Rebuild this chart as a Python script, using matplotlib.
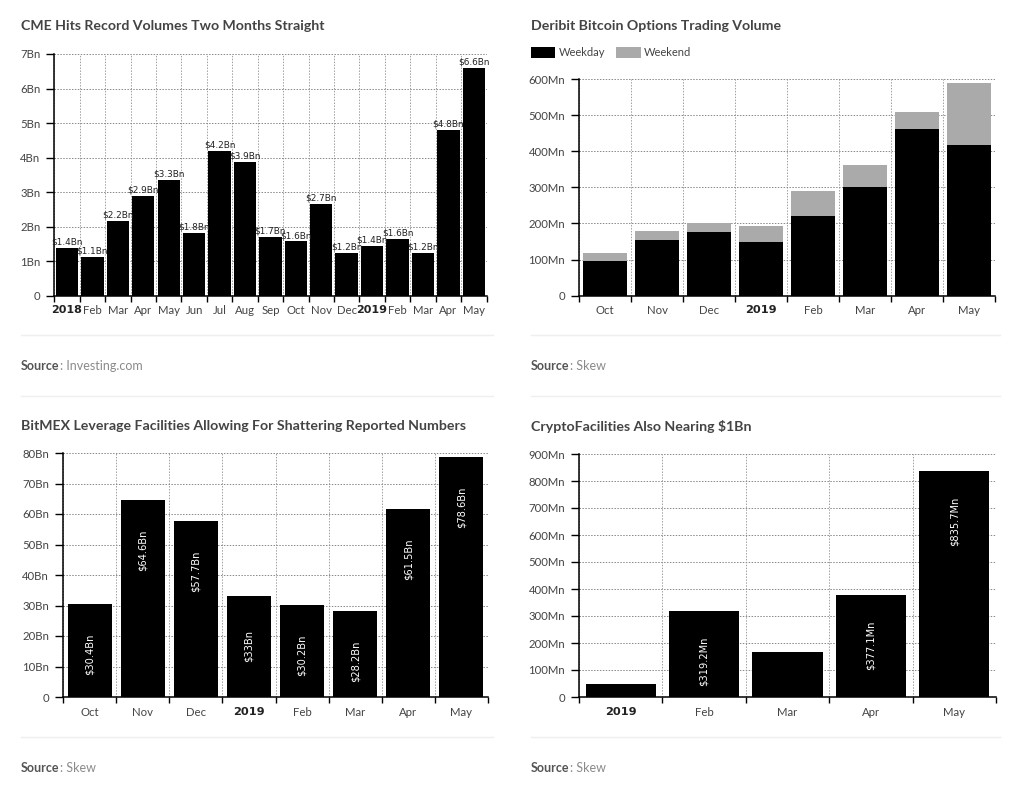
import matplotlib
matplotlib.use('Agg')
import matplotlib.pyplot as plt
import numpy as np

W, H = 1024, 795

cme_months = ['2018', 'Feb', 'Mar', 'Apr', 'May', 'Jun', 'Jul', 'Aug', 'Sep', 'Oct', 'Nov', 'Dec',
              '2019', 'Feb', 'Mar', 'Apr', 'May']
cme_volume = [1.38, 1.12, 2.16, 2.9, 3.35, 1.82, 4.2, 3.88, 1.7, 1.57, 2.67, 1.23, 1.43, 1.64, 1.23, 4.8, 6.6]
cme_labels = ['$1.4Bn', '$1.1Bn', '$2.2Bn', '$2.9Bn', '$3.3Bn', '$1.8Bn', '$4.2Bn', '$3.9Bn', '$1.7Bn',
              '$1.6Bn', '$2.7Bn', '$1.2Bn', '$1.4Bn', '$1.6Bn', '$1.2Bn', '$4.8Bn', '$6.6Bn']
cme_yticks = [0, 1, 2, 3, 4, 5, 6, 7]
cme_yticklabels = ['0', '1Bn', '2Bn', '3Bn', '4Bn', '5Bn', '6Bn', '7Bn']

deribit_months = ['Oct', 'Nov', 'Dec', '2019', 'Feb', 'Mar', 'Apr', 'May']
deribit_weekday = [95, 155, 175, 150, 220, 300, 462, 418]
deribit_weekend = [23, 25, 25, 43, 70, 62, 46, 170]
deribit_yticks = [0, 100, 200, 300, 400, 500, 600]
deribit_yticklabels = ['0', '100Mn', '200Mn', '300Mn', '400Mn', '500Mn', '600Mn']

bitmex_months = ['Oct', 'Nov', 'Dec', '2019', 'Feb', 'Mar', 'Apr', 'May']
bitmex_volume = [30.4, 64.6, 57.7, 33, 30.2, 28.2, 61.5, 78.6]
bitmex_labels = ['$30.4Bn', '$64.6Bn', '$57.7Bn', '$33Bn', '$30.2Bn', '$28.2Bn', '$61.5Bn', '$78.6Bn']
bitmex_yticks = [0, 10, 20, 30, 40, 50, 60, 70, 80]
bitmex_yticklabels = ['0', '10Bn', '20Bn', '30Bn', '40Bn', '50Bn', '60Bn', '70Bn', '80Bn']

cf_months = ['2019', 'Feb', 'Mar', 'Apr', 'May']
cf_volume = [47, 319.2, 168, 377.1, 835.7]
cf_labels = ['', '$319.2Mn', '', '$377.1Mn', '$835.7Mn']
cf_yticks = [0, 100, 200, 300, 400, 500, 600, 700, 800, 900]
cf_yticklabels = ['0', '100Mn', '200Mn', '300Mn', '400Mn', '500Mn', '600Mn', '700Mn', '800Mn', '900Mn']

plt.rcParams['font.family'] = ['Lato', 'DejaVu Sans']

fig = plt.figure(figsize=(W / 100, H / 100), dpi=100, facecolor='white')


def add_axes_px(left, right, top, bottom):
    return fig.add_axes([left / W, 1 - bottom / H, (right - left) / W, (bottom - top) / H])


def style_axes(ax, months, yticks, yticklabels, ylim, year_tick_size=8.2):
    n = len(months)
    ax.set_xlim(0, n)
    ax.set_ylim(0, ylim)
    ax.set_xticks(np.arange(n + 1))
    ax.set_xticklabels([])
    ax.set_xticks(np.arange(n) + 0.5, minor=True)
    ax.set_xticklabels(months, minor=True, fontsize=8.2, color='#444444')
    for lab in ax.get_xticklabels(minor=True):
        if lab.get_text() in ('2018', '2019'):
            lab.set_fontweight('bold')
            lab.set_family(['DejaVu Sans'])
            lab.set_fontsize(year_tick_size)
            lab.set_color('#222222')
    ax.tick_params(axis='x', which='major', length=4, width=1, color='black')
    ax.tick_params(axis='x', which='minor', length=0, pad=7)
    ax.set_yticks(yticks)
    ax.set_yticklabels(yticklabels, fontsize=8.2, color='#444444')
    ax.tick_params(axis='y', length=6, width=1, color='black', pad=4)
    ax.grid(True, which='major', axis='y', linestyle=(0, (1.5, 1.5)), linewidth=0.7, color='#888888')
    ax.grid(True, which='major', axis='x', linestyle=(0, (1.5, 1.5)), linewidth=0.7, color='#a0a0a0')
    ax.set_axisbelow(True)
    for side in ['top', 'right']:
        ax.spines[side].set_visible(False)
    for side in ['left', 'bottom']:
        ax.spines[side].set_linewidth(1.1)
        ax.spines[side].set_color('black')


def add_panel_text(x_left, x_right, title, source, title_y, source_y, sep_ys):
    fig.text(x_left / W, 1 - title_y / H, title, fontsize=10.2, fontweight='bold', color='#444444',
             va='center', ha='left')
    src = fig.text(x_left / W, 1 - source_y / H, 'Source', fontsize=9, fontweight='bold', color='#555555',
                   va='center', ha='left')
    fig.canvas.draw()
    end = src.get_window_extent().x1
    fig.text(end / W, 1 - source_y / H, ': ' + source, fontsize=9, color='#8a8a8a',
             va='center', ha='left')
    for y in sep_ys:
        fig.add_artist(plt.Line2D([x_left / W, x_right / W], [1 - y / H, 1 - y / H], color='#efefef',
                                  linewidth=1))


# top left, CME
ax1 = add_axes_px(54.3, 486.5, 54, 295.7)
x1 = np.arange(len(cme_months)) + 0.5
ax1.bar(x1, cme_volume, width=0.88, color='black')
style_axes(ax1, cme_months, cme_yticks, cme_yticklabels, 7, year_tick_size=8)
for x, v, lab in zip(x1, cme_volume, cme_labels):
    ax1.annotate(lab, (x, v), xytext=(0, 1), textcoords='offset points', ha='center', va='bottom',
                 fontsize=6.4, color='#222222', family=['DejaVu Sans'], annotation_clip=False)

# top right, Deribit
ax2 = add_axes_px(579, 995, 79, 295.7)
x2 = np.arange(len(deribit_months)) + 0.5
ax2.bar(x2, deribit_weekday, width=0.83, color='black', label='Weekday')
ax2.bar(x2, deribit_weekend, width=0.83, bottom=deribit_weekday, color='#aaaaaa', label='Weekend')
style_axes(ax2, deribit_months, deribit_yticks, deribit_yticklabels, 600)
ax2.legend(loc='center left', bbox_to_anchor=(522 / W, 1 - 52.5 / H), bbox_transform=fig.transFigure,
           ncol=2, frameon=False, fontsize=8, labelcolor='#444444', handlelength=2.2, handleheight=1.1,
           columnspacing=1.0, handletextpad=0.3, borderpad=0.3)

# bottom left, BitMEX
ax3 = add_axes_px(63, 488, 453, 697)
x3 = np.arange(len(bitmex_months)) + 0.5
ax3.bar(x3, bitmex_volume, width=0.83, color='black')
style_axes(ax3, bitmex_months, bitmex_yticks, bitmex_yticklabels, 80)
for x, v, lab in zip(x3, bitmex_volume, bitmex_labels):
    ax3.annotate(lab, (x, v), xytext=(0, -36), textcoords='offset points', ha='center', va='center',
                 rotation=90, fontsize=7.1, color='white', family=['DejaVu Sans'])

# bottom right, CryptoFacilities
ax4 = add_axes_px(579, 996, 454, 697)
x4 = np.arange(len(cf_months)) + 0.5
ax4.bar(x4, cf_volume, width=0.84, color='black')
style_axes(ax4, cf_months, cf_yticks, cf_yticklabels, 900)
for x, v, lab in zip(x4, cf_volume, cf_labels):
    if lab:
        ax4.annotate(lab, (x, v), xytext=(0, -36), textcoords='offset points', ha='center', va='center',
                     rotation=90, fontsize=7.1, color='white', family=['DejaVu Sans'])

add_panel_text(21, 493, 'CME Hits Record Volumes Two Months Straight', 'Investing.com', 25.5, 366.5, [335, 396])
add_panel_text(531, 1000, 'Deribit Bitcoin Options Trading Volume', 'Skew', 25.5, 366.5, [335, 396])
add_panel_text(21, 493, 'BitMEX Leverage Facilities Allowing For Shattering Reported Numbers', 'Skew', 426.5, 767.5, [737])
add_panel_text(531, 1000, 'CryptoFacilities Also Nearing $1Bn', 'Skew', 426.5, 767.5, [737])

fig.savefig('out.png', dpi=100, facecolor='white')
